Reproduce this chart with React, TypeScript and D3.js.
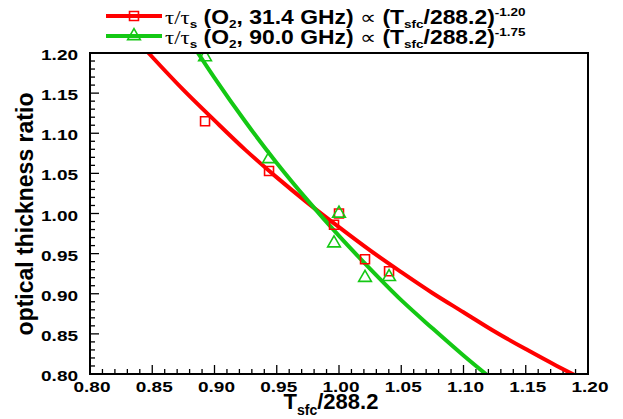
import React, { useEffect, useRef } from 'react';
import * as d3 from 'd3';

// measured points (T_sfc / 288.2, optical thickness ratio)
const tempRatio = [0.8924, 0.9438, 0.996, 1.0, 1.0209, 1.0402];
const tauRatio31 = [1.115, 1.053, 0.986, 1.0, 0.943, 0.928];
const tauRatio90 = [1.195, 1.068, 0.963, 1.0, 0.92, 0.921];

// fitted power-law curves
const fit31X = [0.84, 0.85, 0.875, 0.9, 0.925, 0.95, 0.975, 1.0, 1.025, 1.05, 1.075, 1.1, 1.125, 1.15, 1.175, 1.19];
const fit31Y = [1.212, 1.195, 1.154, 1.116, 1.079, 1.045, 1.013, 0.983, 0.954, 0.927, 0.901, 0.877, 0.853, 0.831, 0.81, 0.798];
const fit90X = [0.88, 0.9, 0.925, 0.95, 0.975, 1.0, 1.025, 1.05, 1.075, 1.1, 1.125];
const fit90Y = [1.216, 1.169, 1.114, 1.063, 1.016, 0.972, 0.931, 0.892, 0.857, 0.823, 0.791];

const xTicks = [0.8, 0.85, 0.9, 0.95, 1.0, 1.05, 1.1, 1.15, 1.2];
const yTicks = [0.8, 0.85, 0.9, 0.95, 1.0, 1.05, 1.1, 1.15, 1.2];

const RED = '#ff0000';
const GREEN = '#14c814';
const FONT = '"Liberation Sans", Arial, sans-serif';

const App: React.FC = () => {
  const svgRef = useRef<SVGSVGElement>(null);

  useEffect(() => {
    if (!svgRef.current) return;
    const root = d3.select(svgRef.current);
    root.selectAll('*').remove();

    const left = 90, right = 588, top = 53, bottom = 374;

    const x = d3.scaleLinear().domain([0.8, 1.2]).range([left, right]);
    const y = d3.scaleLinear().domain([0.8, 1.2]).range([bottom, top]);

    root.append('clipPath')
      .attr('id', 'plot-clip')
      .append('rect')
      .attr('x', left)
      .attr('y', top)
      .attr('width', right - left)
      .attr('height', bottom - top);

    // ticks (inward, left and bottom only), minor every 0.01
    const minorX = d3.range(0.8, 1.2001, 0.01);
    const minorY = d3.range(0.8, 1.2001, 0.01);

    root.append('g')
      .selectAll('line')
      .data(minorX)
      .enter()
      .append('line')
      .attr('x1', d => x(d))
      .attr('x2', d => x(d))
      .attr('y1', bottom)
      .attr('y2', (d, i) => bottom - (i % 5 === 0 ? 9 : 5))
      .attr('stroke', '#000')
      .attr('stroke-width', 1.3);

    root.append('g')
      .selectAll('line')
      .data(minorY)
      .enter()
      .append('line')
      .attr('y1', d => y(d))
      .attr('y2', d => y(d))
      .attr('x1', left)
      .attr('x2', (d, i) => left + (i % 5 === 0 ? 9 : 5))
      .attr('stroke', '#000')
      .attr('stroke-width', 1.3);

    // tick labels are wide and squat in the original
    root.append('g')
      .selectAll('text')
      .data(xTicks)
      .enter()
      .append('text')
      .attr('transform', d => `translate(${x(d) + 2},${bottom + 18}) scale(1,0.8)`)
      .attr('text-anchor', 'middle')
      .style('font-family', FONT)
      .style('font-weight', 'bold')
      .style('font-size', '19px')
      .text(d => d3.format('.2f')(d));

    root.append('g')
      .selectAll('text')
      .data(yTicks)
      .enter()
      .append('text')
      .attr('transform', d => `translate(${left - 12},${y(d) + 7}) scale(1,0.8)`)
      .attr('text-anchor', 'end')
      .style('font-family', FONT)
      .style('font-weight', 'bold')
      .style('font-size', '19px')
      .text(d => d3.format('.2f')(d));

    // fit curves
    const curve = d3.line<[number, number]>()
      .x(d => x(d[0]))
      .y(d => y(d[1]))
      .curve(d3.curveMonotoneX);

    const plot = root.append('g').attr('clip-path', 'url(#plot-clip)');

    plot.append('path')
      .datum(fit31X.map((v, i) => [v, fit31Y[i]] as [number, number]))
      .attr('fill', 'none')
      .attr('stroke', RED)
      .attr('stroke-width', 4)
      .attr('d', curve);

    plot.append('path')
      .datum(fit90X.map((v, i) => [v, fit90Y[i]] as [number, number]))
      .attr('fill', 'none')
      .attr('stroke', GREEN)
      .attr('stroke-width', 4)
      .attr('d', curve);

    const square = d3.symbol().type(d3.symbolSquare).size(80);
    const triangle = d3.symbol().type(d3.symbolTriangle).size(70);

    plot.selectAll('.sq')
      .data(tempRatio)
      .enter()
      .append('path')
      .attr('class', 'sq')
      .attr('transform', (d, i) => `translate(${x(d)},${y(tauRatio31[i])})`)
      .attr('d', square)
      .attr('fill', 'none')
      .attr('stroke', RED)
      .attr('stroke-width', 1.6);

    plot.selectAll('.tri')
      .data(tempRatio)
      .enter()
      .append('path')
      .attr('class', 'tri')
      .attr('transform', (d, i) => `translate(${x(d)},${y(tauRatio90[i])})`)
      .attr('d', triangle)
      .attr('fill', 'none')
      .attr('stroke', GREEN)
      .attr('stroke-width', 1.6);

    // frame
    root.append('rect')
      .attr('x', left)
      .attr('y', top)
      .attr('width', right - left)
      .attr('height', bottom - top)
      .attr('fill', 'none')
      .attr('stroke', '#000')
      .attr('stroke-width', 2);

    // axis titles
    const xt = root.append('text')
      .attr('x', 331)
      .attr('y', 409)
      .attr('text-anchor', 'middle')
      .style('font-family', FONT)
      .style('font-weight', 'bold')
      .style('font-size', '22px');
    xt.append('tspan').text('T');
    xt.append('tspan').attr('dy', 6).style('font-size', '14px').text('sfc');
    xt.append('tspan').attr('dy', -6).text('/288.2');

    root.append('text')
      .attr('transform', 'translate(33,214) rotate(-90)')
      .attr('text-anchor', 'middle')
      .style('font-family', FONT)
      .style('font-weight', 'bold')
      .style('font-size', '23px')
      .text('optical thickness ratio');

    // legend
    const legendRows = [
      { color: RED, freq: '31.4', exp: '-1.20', marker: square },
      { color: GREEN, freq: '90.0', exp: '-1.75', marker: triangle },
    ];
    const legend = root.append('g');
    legendRows.forEach((row, i) => {
      const ly = 16 + i * 20;
      legend.append('line')
        .attr('x1', 106)
        .attr('x2', 162)
        .attr('y1', ly)
        .attr('y2', ly)
        .attr('stroke', row.color)
        .attr('stroke-width', 4);
      legend.append('path')
        .attr('transform', `translate(134,${ly})`)
        .attr('d', row.marker)
        .attr('fill', 'none')
        .attr('stroke', row.color)
        .attr('stroke-width', 1.6);
      const t = legend.append('text')
        .attr('transform', `translate(165,${ly + 8}) scale(1.04,0.88)`)
        .style('font-family', FONT)
        .style('font-weight', 'bold')
        .style('font-size', '22px');
      t.append('tspan').style('font-family', '"Liberation Serif", serif').style('font-weight', 'normal').text('τ/τ');
      t.append('tspan').attr('dy', 4).style('font-size', '13px').text('s');
      t.append('tspan').attr('dy', -4).text(' (O');
      t.append('tspan').attr('dy', 4).style('font-size', '13px').text('2');
      t.append('tspan').attr('dy', -4).text(`, ${row.freq} GHz) `);
      t.append('tspan').style('font-weight', 'normal').text('∝');
      t.append('tspan').text(' (T');
      t.append('tspan').attr('dy', 4).style('font-size', '13px').text('sfc');
      t.append('tspan').attr('dy', -4).text('/288.2)');
      t.append('tspan').attr('dy', -9).style('font-size', '13px').text(row.exp);
    });
  }, []);

  return (
    <div style={{ position: 'absolute', left: 0, top: 0, width: 623, height: 419, background: '#fff' }}>
      <svg ref={svgRef} width={623} height={419}></svg>
    </div>
  );
};

export default App;
